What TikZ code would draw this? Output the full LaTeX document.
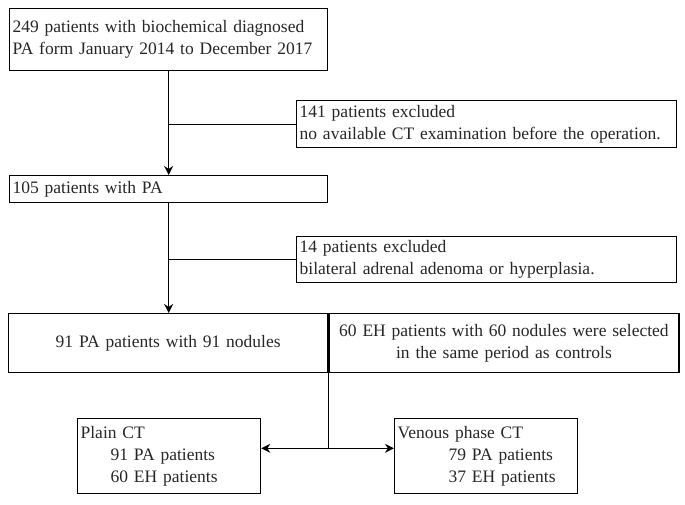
\documentclass[tikz,border=0pt]{standalone}
\usepackage{fontspec}
\setmainfont{Liberation Serif}
\usetikzlibrary{arrows.meta}

\begin{document}
\begin{tikzpicture}
[x=1pt,y=-1pt,
  boxDecorate/.style={draw,line width=1.3pt,inner xsep=3pt,inner ysep=0pt,anchor=north west,align=left,text=black!85},%
  lineDecorate/.style={line width=1.3pt},%
  arrowDecorate/.style={lineDecorate,-{Stealth[length=9pt,width=9pt]}}]
\fontsize{17.5}{22}\selectfont
\useasboundingbox (0,0) rectangle (685,504);
%% left aligned boxes
\foreach \nodename/\x/\y/\w/\h/\txt in {%
  b249/9/8/312/62/{249 patients with biochemical diagnosed\\PA form January 2014 to December 2017},
  b141/296/100/374/47/{141 patients excluded\\no available CT examination before the operation.},
  b105/9/175/312/27/{105 patients with PA},
  b14/296/236/374/46/{14 patients excluded\\bilateral adrenal adenoma or hyperplasia.}}
{
  \node[boxDecorate,text width=\w pt,minimum height=\h pt] (\nodename) at (\x,\y) {\txt};
}
%% selected nodules
\node[boxDecorate,align=center,text width=313pt,minimum height=59pt] (b91) at (8,313) {91 PA patients with 91 nodules};
\node[boxDecorate,align=center,text width=344pt,minimum height=59pt] (b60) at (b91.north east) {60 EH patients with 60 nodules were selected\\in the same period as controls};
%% CT groups
\node[boxDecorate,text width=177pt,minimum height=75pt] (bplain) at (77,418)
  {Plain CT\\\hspace*{30pt}91 PA patients\\\hspace*{30pt}60 EH patients};
\node[boxDecorate,text width=177pt,minimum height=75pt] (bven) at (394,418)
  {Venous phase CT\\\hspace*{51pt}79 PA patients\\\hspace*{51pt}37 EH patients};
%% main flow
\draw[arrowDecorate] (b249.south) -- (b105.north);
\draw[arrowDecorate] (b105.south) -- (b105.south |- b91.north);
%% exclusions
\path
\foreach \startnode/\endnode in {b249/b141, b105/b14}
{
  (\startnode.south |- \endnode.west) edge[lineDecorate] (\endnode.west)
};
%% split into CT groups
\coordinate (split) at ([yshift=-75pt]b91.south east);
\draw[lineDecorate] (b91.south east) -- (split);
\draw[arrowDecorate] (split) -- (split -| bplain.east);
\draw[arrowDecorate] (split) -- (split -| bven.west);
\end{tikzpicture}
\end{document}
